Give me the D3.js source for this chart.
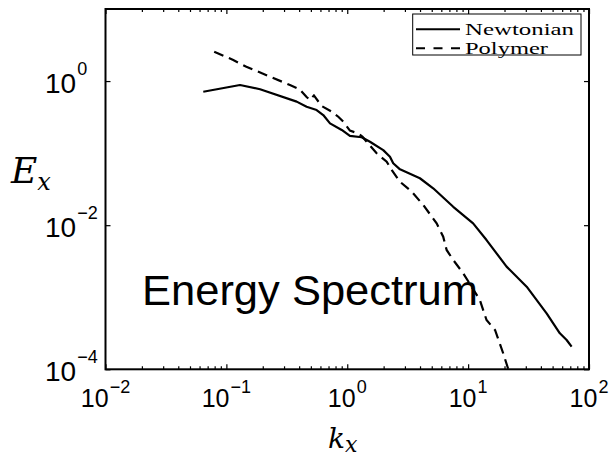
<!DOCTYPE html>
<html>
<head>
<meta charset="utf-8">
<script src="https://cdn.jsdelivr.net/npm/d3@7"></script>
<style>
  body { margin: 0; background: #fff; }
  svg { display: block; }
</style>
</head>
<body>
<div id="chart"></div>
<script>
// wavenumber / energy pairs
const newtonianK = [0.0644, 0.1296, 0.190, 0.3815, 0.461, 0.558, 0.633, 0.720, 0.900, 1.052, 1.316, 1.541, 1.985, 2.256, 2.40, 2.73, 3.99, 5.14, 7.53, 11.0, 14.2, 20.8, 30.5, 44.6, 57.4, 65.3, 71.8];
const newtonianE = [0.711, 0.881, 0.769, 0.518, 0.440, 0.396, 0.338, 0.259, 0.2095, 0.173, 0.166, 0.144, 0.110, 0.0891, 0.0723, 0.0595, 0.0448, 0.0325, 0.0180, 0.0106, 0.00622, 0.00266, 0.00140, 0.000598, 0.000316, 0.000255, 0.000206];

const polymerK = [0.0793, 0.114, 0.1463, 0.3357, 0.403, 0.461, 0.491, 0.530, 0.614, 0.743, 0.843, 0.927, 1.052, 1.233, 1.339, 1.447, 1.75, 2.12, 2.33, 2.73, 3.41, 4.25, 5.49, 6.22, 6.64, 7.53, 9.11, 12.5, 14.2, 16.7, 19.5, 21.5, 22.0];
const polymerE = [2.55, 1.96, 1.58, 0.881, 0.769, 0.601, 0.546, 0.631, 0.451, 0.376, 0.320, 0.273, 0.205, 0.188, 0.169, 0.144, 0.0994, 0.076, 0.0583, 0.0401, 0.0292, 0.0191, 0.0106, 0.00692, 0.00453, 0.00329, 0.00215, 0.000917, 0.000483, 0.000351, 0.000167, 0.0001, 0.00008];

const xMajor = [1e-2, 1e-1, 1e0, 1e1, 1e2];
const xMajorExp = ["−2", "−1", "0", "1", "2"];
const yMajor = [1e-4, 1e-2, 1e0];
const yMajorExp = ["−4", "−2", "0"];
const seriesNames = ["Newtonian", "Polymer"];

const width = 615, height = 456;
const plotL = 105.5, plotR = 589, plotT = 9, plotB = 369.3;

const svg = d3.select("#chart").append("svg")
  .attr("width", width)
  .attr("height", height);

const x = d3.scaleLog().domain([1e-2, 1e2]).range([plotL, plotR]);
const y = d3.scaleLog().domain([1e-4, 1e1]).range([plotB, plotT]);

// minor ticks 2..9 per decade on x
const xMinor = [];
for (let d = -2; d < 2; d++) {
  for (let m = 2; m <= 9; m++) xMinor.push(m * Math.pow(10, d));
}

svg.append("defs").append("clipPath").attr("id", "plotClip")
  .append("rect")
  .attr("x", plotL).attr("y", plotT)
  .attr("width", plotR - plotL).attr("height", plotB - plotT);

const line = d3.line()
  .x(d => x(d[0]))
  .y(d => y(d[1]));

const newtonian = newtonianK.map((k, i) => [k, newtonianE[i]]);
const polymer = polymerK.map((k, i) => [k, polymerE[i]]);

const plot = svg.append("g").attr("clip-path", "url(#plotClip)");

plot.append("path")
  .datum(newtonian)
  .attr("d", line)
  .attr("fill", "none")
  .attr("stroke", "#000")
  .attr("stroke-width", 2.2)
  .attr("stroke-linejoin", "round");

plot.append("path")
  .datum(polymer)
  .attr("d", line)
  .attr("fill", "none")
  .attr("stroke", "#000")
  .attr("stroke-width", 2.2)
  .attr("stroke-dasharray", "10,6");

// axes, ticks pointing inward
function styleAxis(g) {
  g.select(".domain").remove();
  g.selectAll(".tick line").attr("stroke", "#000").attr("stroke-width", 1.2);
  g.selectAll(".tick text").remove();
}

svg.append("g").attr("transform", `translate(0,${plotB})`)
  .call(d3.axisBottom(x).tickValues(xMajor).tickSize(-5)).call(styleAxis);
svg.append("g").attr("transform", `translate(0,${plotB})`)
  .call(d3.axisBottom(x).tickValues(xMinor).tickSize(-3)).call(styleAxis);
svg.append("g").attr("transform", `translate(0,${plotT})`)
  .call(d3.axisTop(x).tickValues(xMajor).tickSize(-5)).call(styleAxis);
svg.append("g").attr("transform", `translate(0,${plotT})`)
  .call(d3.axisTop(x).tickValues(xMinor).tickSize(-3)).call(styleAxis);
svg.append("g").attr("transform", `translate(${plotL},0)`)
  .call(d3.axisLeft(y).tickValues(yMajor).tickSize(-5)).call(styleAxis);
svg.append("g").attr("transform", `translate(${plotR},0)`)
  .call(d3.axisRight(y).tickValues(yMajor).tickSize(-5)).call(styleAxis);

svg.append("rect")
  .attr("x", plotL).attr("y", plotT)
  .attr("width", plotR - plotL).attr("height", plotB - plotT)
  .attr("fill", "none")
  .attr("stroke", "#000")
  .attr("stroke-width", 2);

// tick labels 10^n
const xLab = svg.append("g")
  .style("font-family", "'Liberation Sans', Arial, sans-serif");
xMajor.forEach((v, i) => {
  const t = xLab.append("text")
    .attr("x", x(v))
    .attr("y", 406.7)
    .attr("text-anchor", "middle")
    .style("font-size", "25px");
  t.append("tspan").text("10");
  t.append("tspan").attr("dy", -13.5).attr("dx", 1).style("font-size", "18px").text(xMajorExp[i]);
});

const yLab = svg.append("g")
  .style("font-family", "'Liberation Sans', Arial, sans-serif");
yMajor.forEach((v, i) => {
  const t = yLab.append("text")
    .attr("x", 45)
    .attr("y", y(v) + 12)
    .style("font-size", "28px");
  t.append("tspan").text("10");
  t.append("tspan").attr("dy", -18).attr("dx", 1).style("font-size", "18px").text(yMajorExp[i]);
});

// axis titles
const yTitle = svg.append("text")
  .attr("x", 11).attr("y", 183.3)
  .style("font-family", "'DejaVu Serif', serif")
  .style("font-style", "italic");
yTitle.append("tspan").style("font-size", "36px").text("E");
yTitle.append("tspan").attr("dy", 7).style("font-size", "24px").text("x");

const xTitle = svg.append("text")
  .attr("x", 328).attr("y", 447.7)
  .style("font-family", "'DejaVu Serif', serif")
  .style("font-style", "italic");
xTitle.append("tspan").style("font-size", "28px").text("k");
xTitle.append("tspan").attr("dy", 4).style("font-size", "22px").text("x");

svg.append("text")
  .attr("x", 142).attr("y", 305)
  .attr("textLength", 336)
  .attr("lengthAdjust", "spacingAndGlyphs")
  .style("font-family", "'Liberation Sans', Arial, sans-serif")
  .style("font-size", "43px")
  .text("Energy Spectrum");

// legend
const legend = svg.append("g");
legend.append("rect")
  .attr("x", 412.7).attr("y", 14)
  .attr("width", 168.3).attr("height", 41)
  .attr("fill", "#fff")
  .attr("stroke", "#000")
  .attr("stroke-width", 1);

const legRows = [
  { name: seriesNames[0], dash: null, ly: 29.3, ty: 35, len: 109 },
  { name: seriesNames[1], dash: "9,8.5", ly: 48.3, ty: 53.5, len: 83 }
];
legRows.forEach(r => {
  legend.append("line")
    .attr("x1", 416).attr("x2", 460)
    .attr("y1", r.ly).attr("y2", r.ly)
    .attr("stroke", "#000")
    .attr("stroke-width", 2)
    .attr("stroke-dasharray", r.dash);
  legend.append("text")
    .attr("x", 465).attr("y", r.ty)
    .attr("textLength", r.len)
    .attr("lengthAdjust", "spacingAndGlyphs")
    .style("font-family", "'Liberation Serif', serif")
    .style("font-size", "16.5px")
    .text(r.name);
});
</script>
</body>
</html>
